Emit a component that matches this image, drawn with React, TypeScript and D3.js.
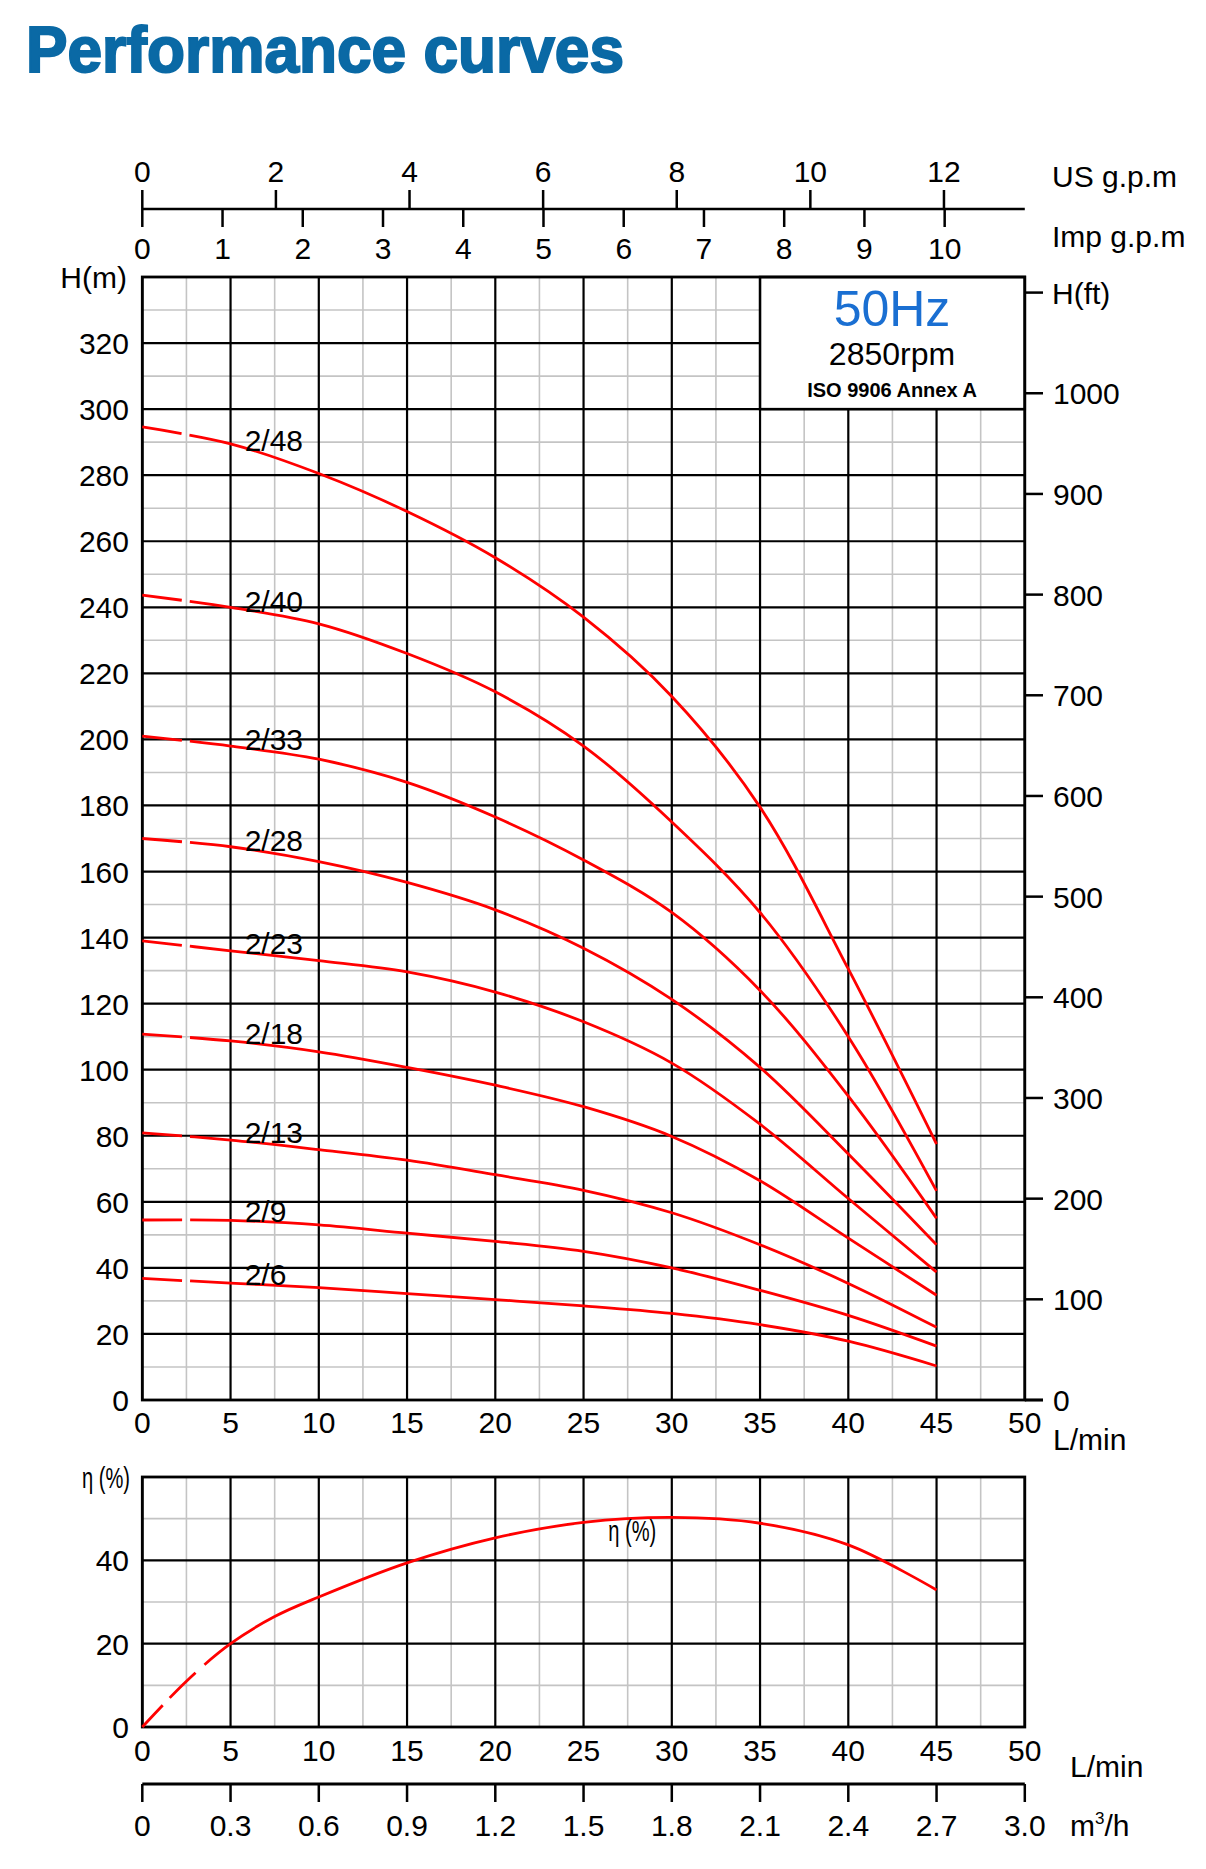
import React from "react";
import * as d3 from "d3";

const flow = [0, 5, 10, 15, 20, 25, 30, 35, 40, 45];

// head in metres for each pump model
const models = ["2/48", "2/40", "2/33", "2/28", "2/23", "2/18", "2/13", "2/9", "2/6"];
const heads: number[][] = [
	[294.6, 289.5, 280.5, 269, 255, 237, 213, 179.5, 130.5, 77.5],
	[243.7, 240, 235, 226, 214.4, 198, 175, 147.6, 110, 63.3],
	[201, 198, 194, 187, 176.5, 163.5, 147.6, 124, 92, 55],
	[170, 167.5, 163, 156.7, 148.4, 136.8, 121.3, 100.7, 74.5, 47],
	[139, 136, 133, 129.6, 123.5, 114.5, 102, 83.5, 61, 38.7],
	[110.8, 108.7, 105.4, 100.7, 95.3, 88.8, 79.8, 66.4, 49, 31.7],
	[80.9, 78.7, 75.8, 72.6, 68.2, 63.5, 56.7, 47, 35.3, 22],
	[54.5, 54.4, 53, 50.5, 48, 45, 40, 33.2, 25.6, 16.3],
	[36.8, 35.4, 34, 32.2, 30.4, 28.5, 26.2, 22.8, 17.8, 10.3],
];

// efficiency curve
const effFlow = [0, 2.5, 5, 7.5, 10, 15, 20, 25, 30, 35, 40, 45];
const effValues = [0, 11, 20, 26.5, 31.2, 39.4, 45.4, 49.1, 50.3, 48.9, 43.7, 32.9];

// axis ticks
const flowTicks = [0, 5, 10, 15, 20, 25, 30, 35, 40, 45, 50];
const headTicks = [0, 20, 40, 60, 80, 100, 120, 140, 160, 180, 200, 220, 240, 260, 280, 300, 320];
const feetTicks = [0, 100, 200, 300, 400, 500, 600, 700, 800, 900, 1000];
const usGpmTicks = [0, 2, 4, 6, 8, 10, 12];
const impGpmTicks = [0, 1, 2, 3, 4, 5, 6, 7, 8, 9, 10];
const effTicks = [0, 20, 40];
const m3hTicks = ["0", "0.3", "0.6", "0.9", "1.2", "1.5", "1.8", "2.1", "2.4", "2.7", "3.0"];

const US_GAL = 3.785;
const IMP_GAL = 4.546;
const FT = 0.3048;

const font = "'Liberation Sans', Arial, sans-serif";
const RED = "#ff0000";
const GRAY = "#c4c4c4";

export default function App() {
	const width = 1206;
	const height = 1869;

	const x = d3.scaleLinear().domain([0, 50]).range([142.3, 1024.8]);
	const yH = d3.scaleLinear().domain([0, 340]).range([1400, 277]);
	const yE = d3.scaleLinear().domain([0, 60]).range([1727, 1477]);

	const headLine = d3
		.line<number>()
		.x((_, i) => x(flow[i]))
		.y((d) => yH(d))
		.curve(d3.curveCatmullRom.alpha(0.5));

	const effLine = d3
		.line<number>()
		.x((_, i) => x(effFlow[i]))
		.y((d) => yE(d))
		.curve(d3.curveCatmullRom.alpha(0.5));

	const minorX = d3.range(0, 50.01, 2.5);
	const gridH = d3.range(0, 340.01, 10);
	const gridE = d3.range(0, 60.01, 10);

	const [x0, x1] = x.range();
	const txt = { fontFamily: font, fontSize: 30, fill: "#000" } as const;

	// head at 6 L/min (label anchor), linear between the read points
	const headAt6 = (h: number[]) => h[1] + (h[2] - h[1]) * 0.2;

	return (
		<svg width={width} height={height} style={{ position: "absolute", left: 0, top: 0, background: "#fff" }}>
			<rect width={width} height={height} fill="#fff" />

			{/* title */}
			<text x={26} y={72} fontFamily={font} fontSize={64} fontWeight={900} fill="#0a69a5" stroke="#0a69a5" strokeWidth={2} textLength={598} lengthAdjust="spacingAndGlyphs">
				Performance curves
			</text>

			{/* top gallon axes */}
			<line x1={x0} x2={x1} y1={209} y2={209} stroke="#000" strokeWidth={2.5} />
			{usGpmTicks.map((t) => (
				<g key={"us" + t}>
					<line x1={x(t * US_GAL)} x2={x(t * US_GAL)} y1={190} y2={209} stroke="#000" strokeWidth={2.5} />
					<text {...txt} x={x(t * US_GAL)} y={182} textAnchor="middle">
						{t}
					</text>
				</g>
			))}
			{impGpmTicks.map((t) => (
				<g key={"imp" + t}>
					<line x1={x(t * IMP_GAL)} x2={x(t * IMP_GAL)} y1={209} y2={227} stroke="#000" strokeWidth={2.5} />
					<text {...txt} x={x(t * IMP_GAL)} y={259} textAnchor="middle">
						{t}
					</text>
				</g>
			))}
			<text {...txt} x={1052} y={187}>
				US g.p.m
			</text>
			<text {...txt} x={1052} y={247}>
				Imp g.p.m
			</text>

			{/* ---------------- head chart ---------------- */}
			{gridH
				.filter((v) => v % 20 !== 0)
				.map((v) => (
					<line key={"hg" + v} x1={x0} x2={x1} y1={yH(v)} y2={yH(v)} stroke={GRAY} strokeWidth={1.6} />
				))}
			{minorX
				.filter((v) => v % 5 !== 0)
				.map((v) => (
					<line key={"vg" + v} x1={x(v)} x2={x(v)} y1={yH(340)} y2={yH(0)} stroke={GRAY} strokeWidth={1.6} />
				))}
			{gridH
				.filter((v) => v % 20 === 0)
				.map((v) => (
					<line key={"hb" + v} x1={x0} x2={x1} y1={yH(v)} y2={yH(v)} stroke="#000" strokeWidth={2.2} />
				))}
			{flowTicks.map((v) => (
				<line key={"vb" + v} x1={x(v)} x2={x(v)} y1={yH(340)} y2={yH(0)} stroke="#000" strokeWidth={2.2} />
			))}

			{/* info box */}
			<rect x={x(35)} y={yH(340)} width={x(50) - x(35)} height={yH(300) - yH(340)} fill="#fff" stroke="#000" strokeWidth={2.5} />
			<text x={892} y={326} textAnchor="middle" fontFamily={font} fontSize={50} fill="#1a6fd2">
				50Hz
			</text>
			<text x={892} y={365} textAnchor="middle" fontFamily={font} fontSize={32} fill="#000">
				2850rpm
			</text>
			<text x={892} y={397} textAnchor="middle" fontFamily={font} fontSize={20} fontWeight="bold" fill="#000">
				ISO 9906 Annex A
			</text>

			<rect x={x0} y={yH(340)} width={x1 - x0} height={yH(0) - yH(340)} fill="none" stroke="#000" strokeWidth={2.8} />
			<line x1={x1} x2={1043} y1={yH(0)} y2={yH(0)} stroke="#000" strokeWidth={2.8} />

			{/* left axis */}
			<text {...txt} x={127} y={288} textAnchor="end">
				H(m)
			</text>
			{headTicks.map((t) => (
				<text key={"hl" + t} {...txt} x={129} y={yH(t) + 11} textAnchor="end">
					{t}
				</text>
			))}

			{/* right axis in feet */}
			{feetTicks.map((t) => (
				<g key={"ft" + t}>
					<line x1={x1} x2={1043} y1={yH(t * FT)} y2={yH(t * FT)} stroke="#000" strokeWidth={2.5} />
					<text {...txt} x={1053} y={yH(t * FT) + 11}>
						{t}
					</text>
				</g>
			))}
			<line x1={x1} x2={1043} y1={yH(1100 * FT)} y2={yH(1100 * FT)} stroke="#000" strokeWidth={2.5} />
			<text {...txt} x={1052} y={yH(1100 * FT) + 11}>
				H(ft)
			</text>

			{/* bottom axis */}
			{flowTicks.map((t) => (
				<text key={"fx" + t} {...txt} x={x(t)} y={1433} textAnchor="middle">
					{t}
				</text>
			))}
			<text {...txt} x={1053} y={1450}>
				L/min
			</text>

			{/* head curves */}
			{heads.map((h, i) => (
				<path key={models[i]} d={headLine(h) ?? ""} fill="none" stroke={RED} strokeWidth={2.8} strokeDasharray="40 8 5000" />
			))}
			{heads.map((h, i) => (
				<text key={"lab" + models[i]} {...txt} x={x(5.8)} y={yH(headAt6(h)) + 1}>
					{models[i]}
				</text>
			))}

			{/* ---------------- efficiency chart ---------------- */}
			{gridE
				.filter((v) => v % 20 !== 0)
				.map((v) => (
					<line key={"eg" + v} x1={x0} x2={x1} y1={yE(v)} y2={yE(v)} stroke={GRAY} strokeWidth={1.6} />
				))}
			{minorX
				.filter((v) => v % 5 !== 0)
				.map((v) => (
					<line key={"evg" + v} x1={x(v)} x2={x(v)} y1={yE(60)} y2={yE(0)} stroke={GRAY} strokeWidth={1.6} />
				))}
			{gridE
				.filter((v) => v % 20 === 0)
				.map((v) => (
					<line key={"eb" + v} x1={x0} x2={x1} y1={yE(v)} y2={yE(v)} stroke="#000" strokeWidth={2.2} />
				))}
			{flowTicks.map((v) => (
				<line key={"evb" + v} x1={x(v)} x2={x(v)} y1={yE(60)} y2={yE(0)} stroke="#000" strokeWidth={2.2} />
			))}
			<rect x={x0} y={yE(60)} width={x1 - x0} height={yE(0) - yE(60)} fill="none" stroke="#000" strokeWidth={2.8} />

			<text x={82} y={1488} fontFamily={font} fontSize={29} textLength={48} lengthAdjust="spacingAndGlyphs">
				η (%)
			</text>
			{effTicks.map((t) => (
				<text key={"el" + t} {...txt} x={129} y={yE(t) + 11} textAnchor="end">
					{t}
				</text>
			))}
			{flowTicks.map((t) => (
				<text key={"ex" + t} {...txt} x={x(t)} y={1761} textAnchor="middle">
					{t}
				</text>
			))}
			<text {...txt} x={1070} y={1777}>
				L/min
			</text>

			<path d={effLine(effValues) ?? ""} fill="none" stroke={RED} strokeWidth={2.8} strokeDasharray="30 10 36 12 5000" />
			<text x={x(26.4)} y={yE(44.6)} fontFamily={font} fontSize={29} textLength={48} lengthAdjust="spacingAndGlyphs">
				η (%)
			</text>

			{/* m3/h axis */}
			<line x1={x0} x2={x1} y1={1784} y2={1784} stroke="#000" strokeWidth={2.8} />
			{m3hTicks.map((t, i) => (
				<g key={"m3" + t}>
					<line x1={x(i * 5)} x2={x(i * 5)} y1={1784} y2={1802} stroke="#000" strokeWidth={2.5} />
					<text {...txt} x={x(i * 5)} y={1836} textAnchor="middle">
						{t}
					</text>
				</g>
			))}
			<text {...txt} x={1070} y={1836}>
				m
				<tspan fontSize={17} dy={-12}>
					3
				</tspan>
				<tspan dy={12}>/h</tspan>
			</text>
		</svg>
	);
}
